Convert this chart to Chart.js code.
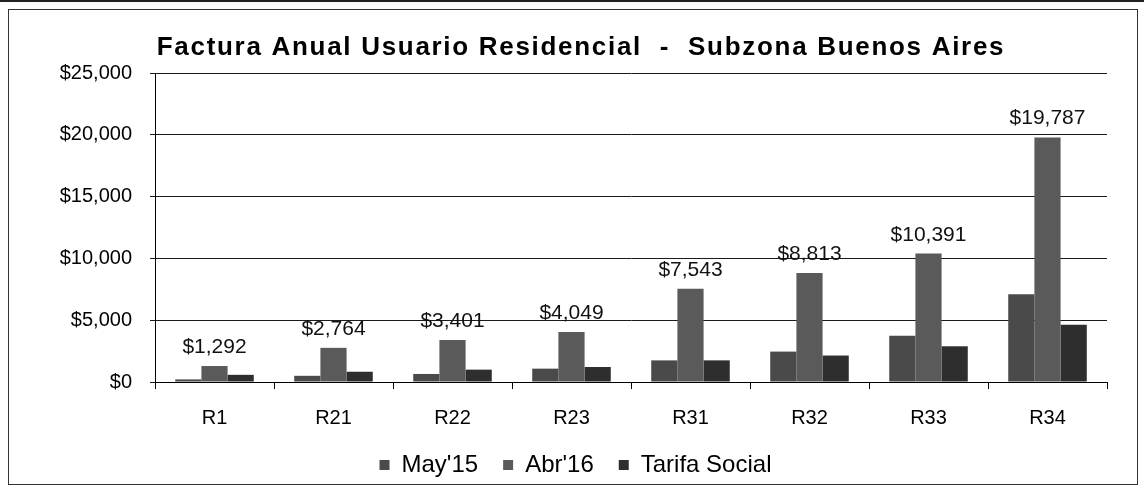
<!DOCTYPE html>
<html>
<head>
<meta charset="utf-8">
<script src="https://cdn.jsdelivr.net/npm/chart.js@4.4.1/dist/chart.umd.min.js"></script>
<style>
  body { margin: 0; background: #fff; }
  #wrap { position: relative; width: 1144px; height: 496px; }
  #topline { position: absolute; left: 0; top: 0; width: 1144px; height: 2px; background: #222; }
  #frame { position: absolute; left: 8px; top: 9px; width: 1128px; height: 474px; border: 1px solid #333; pointer-events: none; }
  canvas { position: absolute; left: 0; top: 0; }
</style>
</head>
<body>
<div id="wrap">
  <canvas id="chart" width="1144" height="496"></canvas>
  <div id="topline"></div>
  <div id="frame"></div>
</div>
<script>
// Datos
var categorias = ['R1', 'R21', 'R22', 'R23', 'R31', 'R32', 'R33', 'R34'];
var may15 = [210, 500, 650, 1080, 1750, 2460, 3750, 7100];
var abr16 = [1292, 2764, 3401, 4049, 7543, 8813, 10391, 19787];
var tarifaSocial = [580, 830, 1000, 1215, 1750, 2140, 2890, 4640];
var yTicks = [0, 5000, 10000, 15000, 20000, 25000];

var fuente = 'Arial, "Liberation Sans", sans-serif';
Chart.defaults.font.family = fuente;
Chart.defaults.color = '#000';

function dinero(v) {
    return '$' + Number(v).toLocaleString('en-US');
}

// Titulo dibujado a mano para poder centrarlo donde va
var tituloPlugin = {
    id: 'titulo',
    afterDraw: function (chart) {
        var ctx = chart.ctx;
        ctx.save();
        ctx.font = 'bold 26px ' + fuente;
        if ('letterSpacing' in ctx) ctx.letterSpacing = '1.7px';
        ctx.fillStyle = '#000';
        ctx.textAlign = 'center';
        ctx.textBaseline = 'middle';
        ctx.fillText('Factura Anual Usuario Residencial  -  Subzona Buenos Aires', 581, 48);
        ctx.restore();
    }
};

// Etiquetas solo sobre la serie Abr'16
var etiquetasPlugin = {
    id: 'etiquetas',
    afterDatasetsDraw: function (chart) {
        var ctx = chart.ctx;
        var meta = chart.getDatasetMeta(1);
        ctx.save();
        ctx.font = '21px ' + fuente;
        ctx.fillStyle = '#111';
        ctx.textAlign = 'center';
        ctx.textBaseline = 'alphabetic';
        meta.data.forEach(function (bar, i) {
            ctx.fillText(dinero(abr16[i]), bar.x, bar.y - 13);
        });
        ctx.restore();
    }
};

// Corre la leyenda un poco a la derecha
var leyendaPlugin = {
    id: 'moverLeyenda',
    afterLayout: function (chart) {
        var lg = chart.legend;
        lg.left += 22;
        lg.right += 22;
    }
};

var ctx = document.getElementById('chart').getContext('2d');
var grafico = new Chart(ctx, {
    type: 'bar',
    data: {
        labels: categorias,
        datasets: [{
            label: "May'15",
            data: may15,
            backgroundColor: '#4a4a4a'
        }, {
            label: "Abr'16",
            data: abr16,
            backgroundColor: '#5a5a5a'
        }, {
            label: 'Tarifa Social',
            data: tarifaSocial,
            backgroundColor: '#2e2e2e'
        }]
    },
    options: {
        responsive: false,
        animation: false,
        layout: {
            padding: { top: 73, right: 37, bottom: 9, left: 0 }
        },
        datasets: {
            bar: {
                categoryPercentage: 0.66,
                barPercentage: 1.0,
                borderWidth: 0
            }
        },
        scales: {
            x: {
                grid: {
                    display: true,
                    drawOnChartArea: false,
                    drawTicks: true,
                    tickLength: 7,
                    color: '#000',
                    offset: true
                },
                border: { display: true, color: '#000', width: 1 },
                ticks: {
                    padding: 19,
                    font: { size: 20, lineHeight: 1 },
                    color: '#000'
                },
                afterFit: function (scale) { scale.height = 46; }
            },
            y: {
                min: 0,
                max: 25000,
                afterBuildTicks: function (scale) {
                    scale.ticks = yTicks.map(function (v) { return { value: v }; });
                },
                grid: {
                    color: '#1a1a1a',
                    lineWidth: 1,
                    tickLength: 5
                },
                border: { display: true, color: '#000', width: 1 },
                ticks: {
                    padding: 18,
                    font: { size: 20 },
                    color: '#000',
                    callback: function (v) { return dinero(v); }
                },
                afterFit: function (scale) { scale.width = 155; }
            }
        },
        plugins: {
            legend: {
                position: 'bottom',
                labels: {
                    boxWidth: 10,
                    boxHeight: 10,
                    padding: 25,
                    font: { size: 24 },
                    color: '#000'
                }
            },
            tooltip: { enabled: false }
        }
    },
    plugins: [tituloPlugin, etiquetasPlugin, leyendaPlugin]
});
</script>
</body>
</html>
